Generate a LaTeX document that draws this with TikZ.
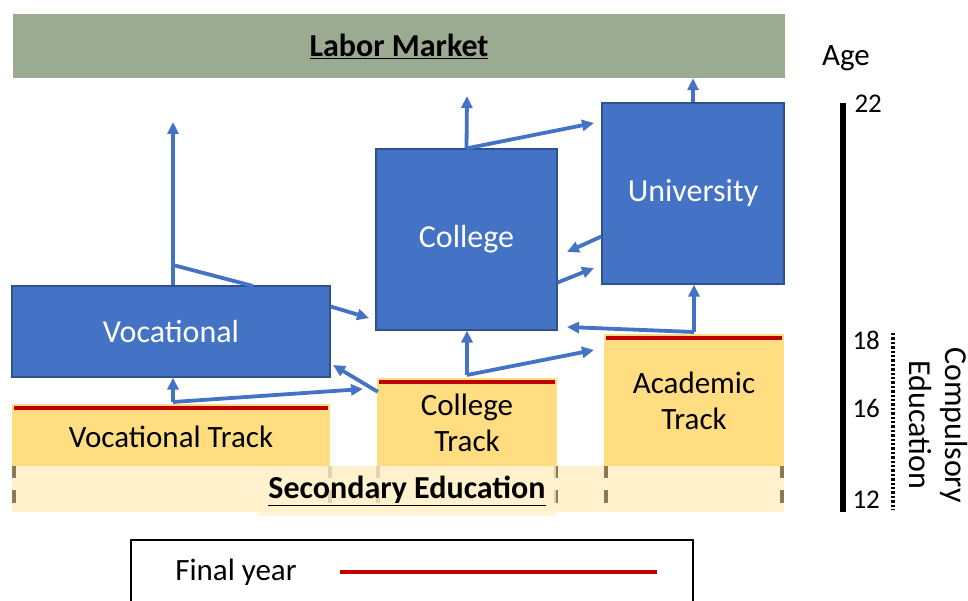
\documentclass[tikz,border=0pt]{standalone}
\usepackage{fontspec}
\setmainfont{Carlito}
\usetikzlibrary{arrows.meta}
\definecolor{bblue}{HTML}{4472C4}
\definecolor{bborder}{HTML}{2F528F}
\definecolor{tyellow}{HTML}{FFDD80}
\definecolor{band}{HTML}{FFF2CC}
\definecolor{lgreen}{RGB}{154,171,145}
\definecolor{fred}{HTML}{C00000}
\definecolor{tick}{HTML}{8C7A55}
\tikzset{
  inst/.style={draw=bborder, line width=1.2pt, fill=bblue, text=white, font=\fontsize{32}{38}\selectfont, inner sep=0pt},
  trackbox/.style={fill=tyellow, draw=none, inner sep=0pt},
  tracklabel/.style={font=\fontsize{31}{36}\selectfont, align=center},
  arr/.style={draw=bblue, line width=3.8pt, -{Triangle[length=12pt,width=11pt]}},
  conn/.style={draw=bblue, line width=3.8pt},
  finalyear/.style={draw=fred, line width=4pt},
  ticks/.style={draw=tick, line width=3.2pt},
  agenum/.style={font=\fontsize{27}{30}\selectfont, anchor=west},
}
\begin{document}
\begin{tikzpicture}[x=1pt,y=-1pt]
\useasboundingbox (0,0) rectangle (968,601);
% Labor market
\node[fill=lgreen, minimum width=772pt, minimum height=64pt, inner sep=0pt, font=\fontsize{32}{36}\selectfont\bfseries] (lm) at (399,46) {\underline{Labor Market}};
% secondary band
\fill[band] (12,466) rectangle (784,512);
\foreach \x in {14,330,378,556,606,782}{
  \draw[ticks] (\x,466) -- (\x,478);
  \draw[ticks] (\x,490) -- (\x,503);
}
\node[fill=band, fill opacity=0.75, text opacity=1, minimum width=298pt, minimum height=50pt, inner sep=0pt, font=\fontsize{32}{36}\selectfont\bfseries] (sec) at (407,491) {\underline{Secondary Education}};
% tracks
\node[trackbox, minimum width=318pt, minimum height=62pt] (vt) at (171,435) {};
\node[tracklabel] (vtl) at (171,437) {Vocational Track};
\node[trackbox, minimum width=180pt, minimum height=88pt] (ct) at (467,422) {};
\node[tracklabel] (ctl) at (467,423) {College\\Track};
\node[trackbox, minimum width=180pt, minimum height=132pt] (at) at (694,400) {};
\node[tracklabel] (atl) at (694,401) {Academic\\Track};
\draw[finalyear] (14,408) -- (328,408);
\draw[finalyear] (379,382) -- (555,382);
\draw[finalyear] (606,338) -- (782,338);
% institutions
\node[inst, minimum width=318pt, minimum height=91pt] (voc) at (171,331.5) {Vocational};
\node[inst, minimum width=181pt, minimum height=181pt] (col) at (466.5,239.5) {College};
\node[inst, minimum width=182pt, minimum height=181pt] (uni) at (693,193.5) {University};
% junction coordinates
\coordinate (jv) at (173,402);
\coordinate (jc) at (467,375);
\coordinate (ja) at (694,332);
\coordinate (jvu) at (173,265);
\coordinate (vtop) at (173,122);
\coordinate (ctop) at (467,96);
% arrows from tracks
\draw[arr] (jv) -- (jv |- voc.south);
\draw[arr] (jv) -- (363,389);
\draw[arr] (ct.north west) ++(1,14) -- (333,365);
\draw[arr] (jc) -- (jc |- col.south);
\draw[arr] (jc) -- (594,350);
\draw[arr] (ja) -- (ja |- uni.south);
\draw[arr] (ja) -- (567,327);
% between institutions
\draw[arr] (voc.east) ++(0,-25) -- (369,318);
\draw[arr] (col.east) ++(0,43) -- (594,268);
\draw[arr] (uni.west) ++(0,43) -- (567,252);
\draw[arr] (jvu |- voc.north) -- (vtop);
\draw[conn] (253,286) -- (jvu);
\draw[arr] (col.north) -- (ctop);
\draw[arr] (col.north) -- (594,123);
\draw[arr] (uni.north) -- (lm.south -| uni.north);
% age axis
\node[font=\fontsize{31}{36}\selectfont] (age) at (846,58) {Age};
\draw[line width=5.5pt] (843,103) coordinate (a22) -- (843,512) coordinate (a12);
\node[agenum] (l22) at (851,104) {22};
\node[agenum] (l18) at (849,340) {18};
\node[agenum] (l16) at (849,408) {16};
\node[agenum] (l12) at (849,500) {12};
\draw[line width=3.4pt, dash pattern=on 2.4pt off 2pt] (893,333) -- (893,510);
\node[rotate=-90, font=\fontsize{32}{36}\selectfont, align=center] (comp) at (938,425) {Compulsory\\Education};
% legend
\draw[line width=1.4pt] (131,605) -- (131,540) -- (693,540) -- (693,605);
\node[font=\fontsize{31}{36}\selectfont] (fy) at (236,572) {Final year};
\draw[finalyear] (340,572) -- (657,572);
\end{tikzpicture}
\end{document}
